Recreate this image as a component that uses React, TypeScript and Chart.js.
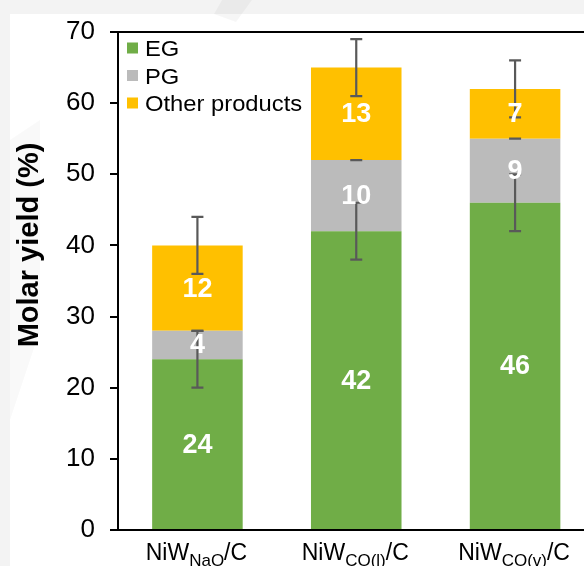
import React, { useEffect, useRef } from "react";
import { Chart, registerables } from "chart.js";

Chart.register(...registerables);

// Catalysts: "NiW" + subscript + "/C"
const catalystMain = "NiW";
const catalystSub = ["NaO", "CO(l)", "CO(v)"];
const catalystSuffix = "/C";

// Molar yields (%)
const egYield = [24, 42, 46];
const pgYield = [4, 10, 9];
const otherYield = [12, 13, 7];

// Error bar half-widths at the top of each stacked segment
const egErr = [4, 4, 4];
const pgErr = [0, 0, 0];
const otherErr = [4, 4, 4];

const seriesNames = ["EG", "PG", "Other products"];
const seriesColors = ["#70AD47", "#BBBBBB", "#FFC000"];

const yTicks = [0, 10, 20, 30, 40, 50, 60, 70];
const yTitle = "Molar yield (%)";

const FONT = "'Liberation Sans', Arial, sans-serif";

const backgroundPlugin = {
  id: "pageBackground",
  beforeDraw(chart: any) {
    const { ctx, width, height } = chart;
    ctx.save();
    ctx.fillStyle = "#f3f3f3";
    ctx.fillRect(0, 0, width, height);
    ctx.fillStyle = "#ffffff";
    ctx.fillRect(10, 14, width - 10, height - 14);
    // faint diagonal watermark strokes
    ctx.fillStyle = "rgba(0,0,0,0.035)";
    ctx.beginPath();
    ctx.moveTo(222, 0);
    ctx.lineTo(252, 0);
    ctx.lineTo(236, 22);
    ctx.lineTo(214, 14);
    ctx.closePath();
    ctx.fill();
    ctx.beginPath();
    ctx.moveTo(10, 140);
    ctx.lineTo(40, 120);
    ctx.lineTo(40, 330);
    ctx.lineTo(10, 420);
    ctx.closePath();
    ctx.fillStyle = "rgba(0,0,0,0.025)";
    ctx.fill();
    ctx.restore();
  },
};

const decorPlugin = {
  id: "decor",
  afterDatasetsDraw(chart: any) {
    const { ctx } = chart;
    const y = chart.scales.y;
    const stacks = [egYield, pgYield, otherYield];
    const errs = [egErr, pgErr, otherErr];

    // error bars
    ctx.save();
    ctx.strokeStyle = "#595959";
    ctx.lineWidth = 2.2;
    const meta0 = chart.getDatasetMeta(0);
    for (let i = 0; i < catalystSub.length; i++) {
      const x = meta0.data[i].x;
      let cum = 0;
      for (let s = 0; s < stacks.length; s++) {
        cum += stacks[s][i];
        const e = errs[s][i];
        const yHi = y.getPixelForValue(cum + e);
        const yLo = y.getPixelForValue(cum - e);
        ctx.beginPath();
        if (e > 0) {
          ctx.moveTo(x, yHi);
          ctx.lineTo(x, yLo);
        }
        ctx.moveTo(x - 6, yHi);
        ctx.lineTo(x + 6, yHi);
        ctx.moveTo(x - 6, yLo);
        ctx.lineTo(x + 6, yLo);
        ctx.stroke();
      }
    }
    ctx.restore();

    // segment value labels
    ctx.save();
    ctx.fillStyle = "#ffffff";
    ctx.font = `bold 27px ${FONT}`;
    ctx.textAlign = "center";
    ctx.textBaseline = "middle";
    for (let s = 0; s < stacks.length; s++) {
      const meta = chart.getDatasetMeta(s);
      meta.data.forEach((bar: any, i: number) => {
        const cy = (bar.y + bar.base) / 2;
        ctx.fillText(String(stacks[s][i]), bar.x, cy + 1);
      });
    }
    ctx.restore();
  },
  afterDraw(chart: any) {
    const { ctx, chartArea } = chart;
    ctx.save();

    // top frame line
    ctx.strokeStyle = "#000";
    ctx.lineWidth = 2;
    ctx.beginPath();
    ctx.moveTo(chartArea.left, chartArea.top);
    ctx.lineTo(chartArea.right, chartArea.top);
    ctx.stroke();

    // legend inside plot area
    const rows = [48, 75.5, 103];
    seriesNames.forEach((name, k) => {
      ctx.fillStyle = seriesColors[k];
      ctx.fillRect(127, rows[k] - 5.5, 11, 11);
      ctx.save();
      ctx.translate(145, rows[k] + 8);
      ctx.scale(1.08, 1);
      ctx.fillStyle = "#000";
      ctx.font = `22px ${FONT}`;
      ctx.textAlign = "left";
      ctx.textBaseline = "alphabetic";
      ctx.fillText(name, 0, 0);
      ctx.restore();
    });

    // y-axis title
    ctx.save();
    ctx.translate(30, 245);
    ctx.rotate(-Math.PI / 2);
    ctx.fillStyle = "#000";
    ctx.font = `bold 29px ${FONT}`;
    ctx.textAlign = "center";
    ctx.textBaseline = "middle";
    ctx.fillText(yTitle, 0, 0);
    ctx.restore();

    // category labels with subscripts
    const meta0 = chart.getDatasetMeta(0);
    const mainFont = `23px ${FONT}`;
    const subFont = `17px ${FONT}`;
    ctx.fillStyle = "#000";
    ctx.textAlign = "left";
    ctx.textBaseline = "alphabetic";
    catalystSub.forEach((sub, i) => {
      ctx.font = mainFont;
      const w1 = ctx.measureText(catalystMain).width;
      const w3 = ctx.measureText(catalystSuffix).width;
      ctx.font = subFont;
      const w2 = ctx.measureText(sub).width;
      const total = w1 + w2 + w3;
      let x = meta0.data[i].x - total / 2 - 1;
      const base = 560;
      ctx.font = mainFont;
      ctx.fillText(catalystMain, x, base);
      x += w1;
      ctx.font = subFont;
      ctx.fillText(sub, x, base + 6);
      x += w2;
      ctx.font = mainFont;
      ctx.fillText(catalystSuffix, x, base);
    });

    ctx.restore();
  },
};

export default function App() {
  const canvasRef = useRef<HTMLCanvasElement | null>(null);

  useEffect(() => {
    if (!canvasRef.current) return;
    const labels = catalystSub.map((s) => catalystMain + s + catalystSuffix);
    const chart = new Chart(canvasRef.current, {
      type: "bar",
      data: {
        labels,
        datasets: [
          { label: seriesNames[0], data: egYield, backgroundColor: seriesColors[0] },
          { label: seriesNames[1], data: pgYield, backgroundColor: seriesColors[1] },
          { label: seriesNames[2], data: otherYield, backgroundColor: seriesColors[2] },
        ],
      },
      options: {
        responsive: false,
        animation: false,
        devicePixelRatio: 1,
        layout: { padding: { top: 32, right: 15.5, left: 0, bottom: 0 } },
        datasets: {
          bar: { categoryPercentage: 1, barPercentage: 0.57, borderWidth: 0 },
        },
        plugins: {
          legend: { display: false },
          tooltip: { enabled: false },
          title: { display: false },
        },
        scales: {
          x: {
            stacked: true,
            grid: { display: false },
            ticks: { display: false },
            border: { display: true, color: "#000", width: 2 },
            afterFit: (s: any) => {
              s.height = 36;
            },
          },
          y: {
            stacked: true,
            min: yTicks[0],
            max: yTicks[yTicks.length - 1],
            afterBuildTicks: (s: any) => {
              s.ticks = yTicks.map((v) => ({ value: v }));
            },
            grid: {
              drawOnChartArea: false,
              drawTicks: true,
              tickLength: 8,
              color: "#000",
              lineWidth: 2,
            },
            border: { display: true, color: "#000", width: 2 },
            ticks: {
              padding: 15,
              color: "#000",
              font: { family: FONT, size: 26 },
            },
            afterFit: (s: any) => {
              s.width = 118;
            },
          },
        },
      },
      plugins: [backgroundPlugin, decorPlugin],
    });
    return () => chart.destroy();
  }, []);

  return (
    <div
      style={{
        position: "fixed",
        left: 0,
        top: 0,
        width: 584,
        height: 566,
        overflow: "hidden",
        background: "#fff",
      }}
    >
      <canvas ref={canvasRef} width={610} height={566} style={{ display: "block" }} />
    </div>
  );
}
